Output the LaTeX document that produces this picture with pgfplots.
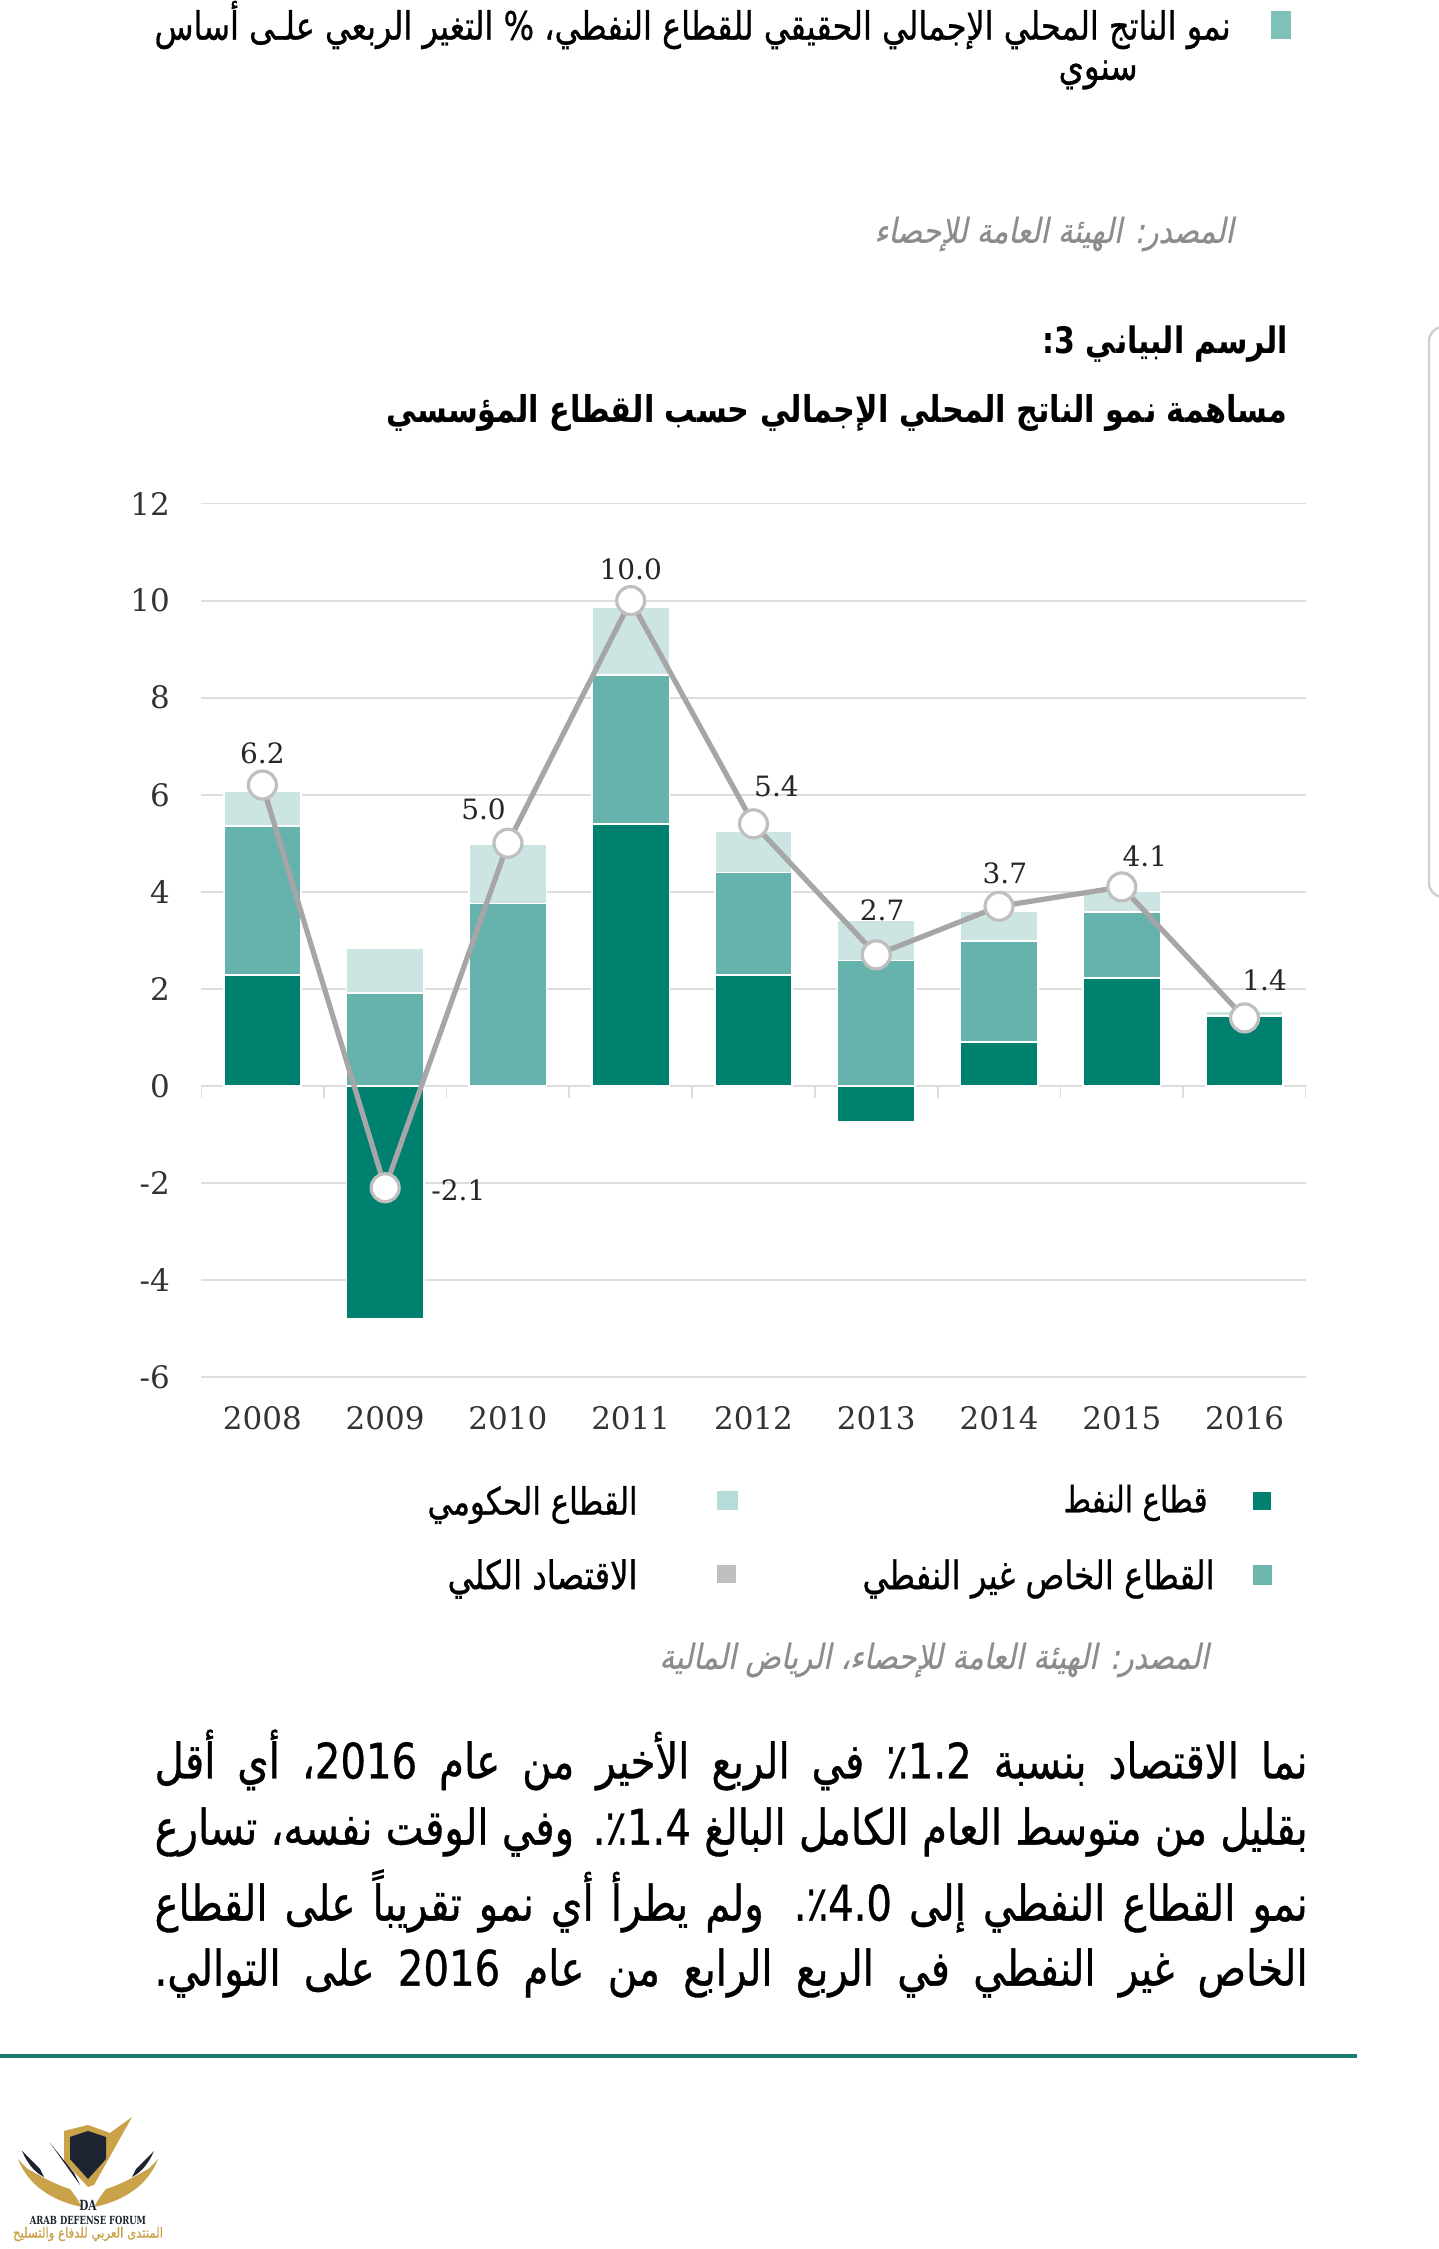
\documentclass[border=0pt]{standalone}
\usepackage{fontspec}
\usepackage{graphicx}
\usepackage{pgfplots}
\pgfplotsset{compat=1.18}
\usepackage{pgfplotstable}
\setmainfont{DejaVu Serif}
\newfontfamily\ar[Script=Arabic,FakeStretch=0.82,FakeBold=0.7]{DejaVu Sans}
\newfontfamily\arb[Script=Arabic,FakeStretch=0.82]{DejaVu Sans Bold}
\newfontfamily\arit[Script=Arabic,FakeSlant=0.2,FakeStretch=0.85,FakeBold=0.5]{DejaVu Sans}
\newfontfamily\logofont[FakeStretch=0.75]{DejaVu Serif Bold}
\TeXXeTstate=1

\definecolor{oilc}{HTML}{00806F}
\definecolor{nonoilc}{HTML}{66B2AC}
\definecolor{govc}{HTML}{CCE5E2}
\definecolor{linec}{HTML}{A6A6A6}
\definecolor{gridc}{HTML}{DDDDDD}
\definecolor{srcc}{HTML}{8C8C8C}
\definecolor{rulec}{HTML}{1F7A70}
\definecolor{gold}{HTML}{C9A24A}
\definecolor{navy}{HTML}{1B2430}
\definecolor{leggov}{HTML}{B4DDD9}
\definecolor{legnon}{HTML}{6DB6AE}
\definecolor{legtot}{HTML}{BFBFBF}
\definecolor{bulc}{HTML}{7FC1B8}
\definecolor{scrc}{HTML}{D0D0D0}

% bars above zero (stacked)
\pgfplotstableread{
x oil nonoil gov
0 2.28 3.08 0.71
1 0    1.91 0.93
2 0    3.76 1.22
3 5.40 3.07 1.40
4 2.28 2.12 0.85
5 0    2.58 0.84
6 0.90 2.08 0.61
7 2.22 1.36 0.44
8 1.44 0    0.10
}\barpos
% oil sector below zero
\pgfplotstableread{
x oilneg
1 -4.80
2 -0.05
5 -0.75
}\barneg
% total economy, label offsets (pt)
\pgfplotstableread{
x y dx dy
0 6.2 0 15.8
1 -2.1 36.6 -1.4
2 5.0 -12.2 17.2
3 10.0 0 15.8
4 5.4 11.5 18.6
5 2.7 2.9 22.2
6 3.7 2.9 16.5
7 4.1 11.5 15.1
8 1.4 10 18.6
}\total

\pgfplotsset{
  frame/.style={
    scale only axis, width=552.5pt, height=436.7pt,
    xmin=-0.5, xmax=8.5, ymin=-6, ymax=12,
    at={(100.5pt,436pt)}, anchor=south west,
    axis line style={draw=none}, tick style={draw=none},
  }
}

\begin{document}
\begin{tikzpicture}
\fill[white] (0,0) rectangle (719.5pt,1124.5pt);
\path[use as bounding box] (0,0) rectangle (719.5pt,1124.5pt);

% caption of previous chart
\fill[bulc] (635.5pt,1105pt) rectangle (645.5pt,1119pt);
\node[inner sep=0, anchor=east] at (615.5pt,1112pt) {\resizebox{538pt}{!}{\ar\beginR نمو الناتج المحلي الإجمالي الحقيقي للقطاع النفطي، \% التغير الربعي علـى أساس\endR}};
\node[inner sep=0, anchor=east] at (569pt,1087pt) {\resizebox{39.5pt}{!}{\ar\beginR سنوي\endR}};
\node[inner sep=0, anchor=east, text=srcc] at (617pt,1007.5pt) {\resizebox{179.5pt}{!}{\arit\beginR المصدر: الهيئة العامة للإحصاء\endR}};

% title
\node[inner sep=0, anchor=east] at (644pt,952.5pt) {\resizebox{122.5pt}{!}{\arb\beginR الرسم البياني \beginL3\endL:\endR}};
\node[inner sep=0, anchor=east] at (644pt,918pt) {\resizebox{450.5pt}{!}{\arb\beginR مساهمة نمو الناتج المحلي الإجمالي حسب القطاع المؤسسي\endR}};

% scroll bar edge
\begin{scope}
\clip (0,0) rectangle (719.5pt,1124.5pt);
\draw[scrc, line width=1.2pt, rounded corners=7pt] (714.5pt,676pt) rectangle (740pt,961pt);
\end{scope}

\begin{axis}[frame,
  ybar stacked, bar width=0.63,
  ytick={-6,-4,...,12}, ymajorgrids,
  grid style={draw=gridc, line width=0.9pt},
  xtick={0,...,8},
  xticklabels={2008,2009,2010,2011,2012,2013,2014,2015,2016},
  tick label style={font=\fontsize{15.5}{18}\selectfont, text=black!80},
  yticklabel style={xshift=-12pt},
  xticklabel style={yshift=-11pt},
  /pgf/number format/assume math mode=true,
]
\addplot[fill=oilc, draw=white, line width=0.8pt] table[x=x, y=oil]{\barpos};
\addplot[fill=nonoilc, draw=white, line width=0.8pt] table[x=x, y=nonoil]{\barpos};
\addplot[fill=govc, draw=white, line width=0.8pt] table[x=x, y=gov]{\barpos};
\pgfplotsinvokeforeach{-0.5,0.5,...,8.5}{
  \draw[gridc, line width=0.9pt] (axis cs:#1,0) -- (axis cs:#1,-0.26);
}
\end{axis}

\begin{axis}[frame, xtick=\empty, ytick=\empty]
\addplot[ybar, bar width=0.63, fill=oilc, draw=white, line width=0.8pt] table[x=x, y=oilneg]{\barneg};
\addplot[linec, line width=2.6pt, mark=*, mark size=7pt,
  mark options={fill=white, draw=legtot, line width=1.6pt},
  nodes near coords, point meta=explicit,
  visualization depends on={\thisrow{dx}\as\dx},
  visualization depends on={\thisrow{dy}\as\dy},
  nodes near coords style={anchor=center, xshift=\dx*1pt, yshift=\dy*1pt,
    font=\fontsize{14}{16}\selectfont, text=black!85,
    /pgf/number format/.cd, fixed, fixed zerofill, precision=1, assume math mode=true}]
  table[x=x, y=y, meta=y]{\total};
\end{axis}

% legend
\fill[oilc] (626.5pt,369.5pt) rectangle (635.5pt,378.5pt);
\node[inner sep=0, anchor=east] at (604pt,373pt) {\resizebox{72pt}{!}{\ar\beginR قطاع النفط\endR}};
\fill[leggov] (358.5pt,369.5pt) rectangle (369pt,379pt);
\node[inner sep=0, anchor=east] at (319pt,372pt) {\resizebox{105pt}{!}{\ar\beginR القطاع الحكومي\endR}};
\fill[legnon] (626.5pt,332pt) rectangle (636pt,342pt);
\node[inner sep=0, anchor=east] at (607.5pt,335pt) {\resizebox{176pt}{!}{\ar\beginR القطاع الخاص غير النفطي\endR}};
\fill[legtot] (358.5pt,333pt) rectangle (368pt,342pt);
\node[inner sep=0, anchor=east] at (319pt,335pt) {\resizebox{95pt}{!}{\ar\beginR الاقتصاد الكلي\endR}};

\node[inner sep=0, anchor=east, text=srcc] at (604.5pt,294.5pt) {\resizebox{274.5pt}{!}{\arit\beginR المصدر: الهيئة العامة للإحصاء، الرياض المالية\endR}};

% paragraph
\begin{scope}[every node/.style={inner sep=0, anchor=east}]
\node at (654pt,244.5pt) {\makebox[576.5pt][s]{\ar\fontsize{24.5}{28}\selectfont\beginR نما الاقتصاد بنسبة \beginL1.2\endL٪ في الربع الأخير من عام \beginL2016\endL، أي أقل\endR}};
\node at (654pt,208.5pt) {\makebox[576.5pt][s]{\ar\fontsize{24.5}{28}\selectfont\beginR بقليل من متوسط العام الكامل البالغ \beginL1.4\endL٪. وفي الوقت نفسه، تسارع\endR}};
\node at (654pt,174pt) {\makebox[576.5pt][s]{\ar\fontsize{24.5}{28}\selectfont\beginR نمو القطاع النفطي إلى \beginL4.0\endL٪. ولم يطرأ أي نمو تقريباً على القطاع\endR}};
\node at (654pt,138pt) {\makebox[576.5pt][s]{\ar\fontsize{24.5}{28}\selectfont\beginR الخاص غير النفطي في الربع الرابع من عام \beginL2016\endL{} على التوالي.\endR}};
\end{scope}

\draw[rulec, line width=2pt] (0,96.5pt) -- (678.5pt,96.5pt);

% forum logo
\begin{scope}[shift={(44pt,0pt)}]
\foreach \m in {1,-1}{
  \begin{scope}[xscale=\m]
  \fill[gold] (35pt,45pt) .. controls (30pt,32pt) and (18pt,24pt) .. (3pt,21pt) -- (6pt,26pt) .. controls (18pt,29pt) and (27pt,36pt) .. cycle;
  \fill[navy] (33pt,49pt) .. controls (30pt,42pt) and (26pt,38pt) .. (22pt,36pt) -- (24pt,40pt) .. controls (27pt,43pt) and (30pt,46pt) .. cycle;
  \fill[gold] (30pt,40pt) .. controls (24pt,31pt) and (14pt,27pt) .. (6pt,26pt) -- (9pt,30pt) .. controls (16pt,32pt) and (23pt,36pt) .. cycle;
  \end{scope}
}
\fill[gold] (-12pt,59pt) -- (0pt,62pt) -- (11pt,58pt) -- (22pt,66pt) -- (3pt,32pt) -- (0pt,31pt) -- (-12pt,44pt) -- cycle;
\fill[navy] (-9pt,56pt) -- (0pt,59pt) -- (9pt,56pt) -- (9pt,45pt) -- (0pt,35pt) -- (-9pt,45pt) -- cycle;
\fill[navy] (-19pt,53pt) -- (-4pt,32pt) -- (-7pt,38pt) -- cycle;
\node[navy, font=\logofont\fontsize{7}{7}\selectfont] at (0pt,22pt) {DA};
\node[navy, font=\logofont\fontsize{5.6}{6}\selectfont] at (0pt,14.5pt) {ARAB DEFENSE FORUM};
\node[inner sep=0, text=gold] at (0pt,7.5pt) {\resizebox{75pt}{!}{\ar\beginR المنتدى العربي للدفاع والتسليح\endR}};
\end{scope}
\end{tikzpicture}
\end{document}
